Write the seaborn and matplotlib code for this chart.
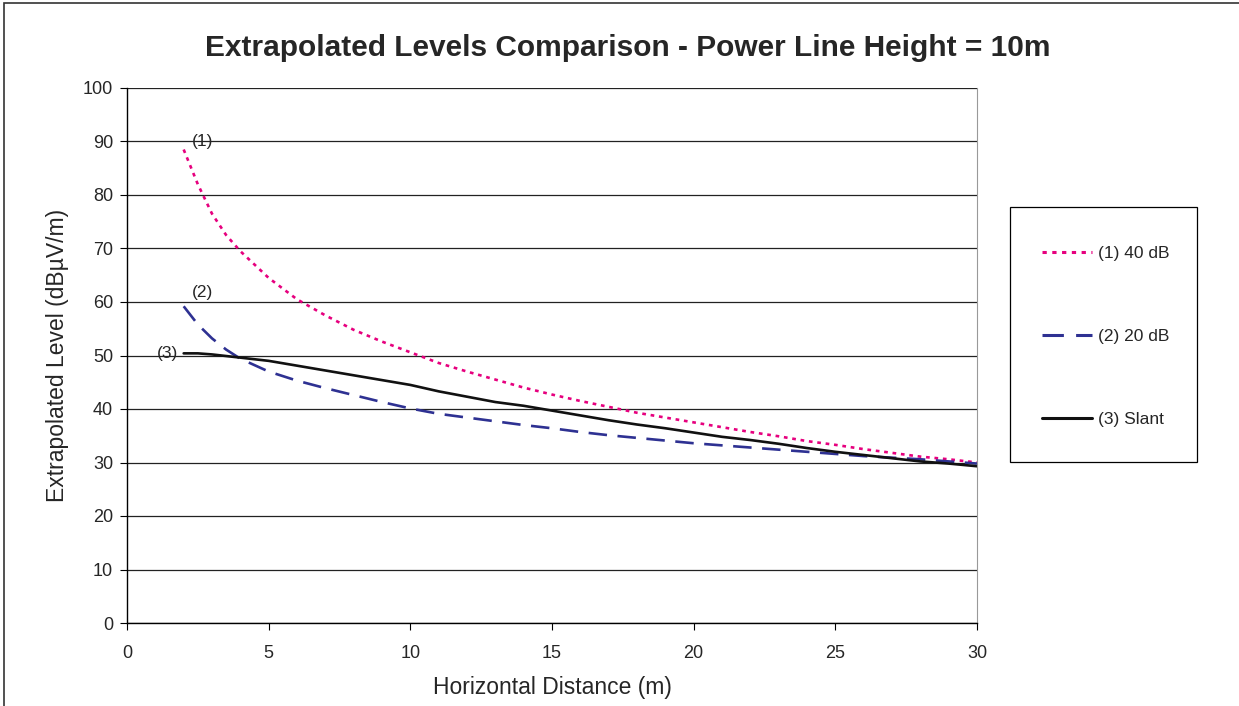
import numpy as np
import pandas as pd
import seaborn as sns
import matplotlib.pyplot as plt
from matplotlib.patches import Rectangle

# data
distance = [2, 2.5, 3, 3.5, 4, 5, 6, 7, 8, 9, 10, 11, 12, 13, 14, 15, 16, 17, 18, 19,
            20, 21, 22, 23, 24, 25, 26, 27, 28, 29, 30]
level_40db = [88.5, 82.0, 76.5, 72.5, 69.5, 64.5, 60.5, 57.5, 54.8, 52.6, 50.6, 48.6, 47.0,
              45.5, 44.0, 42.7, 41.5, 40.4, 39.3, 38.4, 37.5, 36.6, 35.7, 34.9, 34.0, 33.3,
              32.5, 31.8, 31.1, 30.6, 30.0]
level_20db = [59.2, 55.8, 53.2, 51.1, 49.4, 47.0, 45.3, 43.9, 42.6, 41.3, 40.1, 39.1, 38.4,
              37.7, 37.0, 36.4, 35.7, 35.1, 34.6, 34.1, 33.6, 33.2, 32.8, 32.4, 32.0, 31.6,
              31.2, 30.9, 30.6, 30.2, 29.8]
level_slant = [50.4, 50.4, 50.2, 49.9, 49.6, 49.0, 48.1, 47.2, 46.3, 45.4, 44.5, 43.3, 42.3,
               41.3, 40.6, 39.7, 38.8, 37.9, 37.1, 36.4, 35.6, 34.8, 34.2, 33.5, 32.7, 32.0,
               31.4, 30.8, 30.2, 29.8, 29.3]

series_names = ["(1) 40 dB", "(2) 20 dB", "(3) Slant"]
series_tags = ["(1)", "(2)", "(3)"]

df = pd.DataFrame({"distance": distance, series_names[0]: level_40db,
                   series_names[1]: level_20db, series_names[2]: level_slant})
long_df = df.melt(id_vars="distance", var_name="series", value_name="level")

sns.set_style("white")
plt.rcParams["font.family"] = ["Liberation Sans", "DejaVu Sans"]

W, H = 1239, 706
fig = plt.figure(figsize=(W / 100, H / 100), dpi=100)
ax = fig.add_axes([127 / W, 1 - 623 / H, 850 / W, 535 / H])

colors = {series_names[0]: "#e6007e", series_names[1]: "#2e3192", series_names[2]: "#111111"}
dashes = {series_names[0]: (1.4, 1.8), series_names[1]: (7, 4), series_names[2]: ""}

sns.lineplot(data=long_df, x="distance", y="level", hue="series", style="series",
             palette=colors, dashes=dashes, linewidth=1.9, ax=ax, legend=False)

ax.set_xlim(0, 30)
ax.set_ylim(0, 100)
ax.set_xticks(range(0, 31, 5))
ax.set_yticks(range(0, 101, 10))
ax.yaxis.grid(True, color="#222222", linewidth=0.9)
ax.set_axisbelow(True)
ax.tick_params(axis="both", direction="out", length=5, width=0.8, color="black",
               labelsize=13, pad=5, bottom=True, left=True)
ax.tick_params(axis="x", pad=11)
for side in ["left", "bottom"]:
    ax.spines[side].set_color("black")
    ax.spines[side].set_linewidth(1.0)
ax.spines["top"].set_visible(False)
ax.spines["right"].set_color("#999999")
ax.spines["right"].set_linewidth(0.8)

ax.set_xlabel("Horizontal Distance (m)", fontsize=16.5, labelpad=10)
ax.set_ylabel("Extrapolated Level (dBµV/m)", fontsize=16.5, labelpad=10)
fig.text(628 / W, 1 - 48 / H, "Extrapolated Levels Comparison - Power Line Height = 10m",
         fontsize=21.5, fontweight="bold", ha="center", va="center")

# series tags near start of each curve
ax.text(2.3, level_40db[0] + 1.5, series_tags[0], fontsize=12.5, ha="left", va="center")
ax.text(2.3, level_20db[0] + 2.5, series_tags[1], fontsize=12.5, ha="left", va="center")
ax.text(1.8, level_slant[0], series_tags[2], fontsize=12.5, ha="right", va="center")

# legend (frame drawn separately)
handles = []
for n in series_names:
    h = plt.Line2D([], [], color=colors[n], linewidth=2.2)
    if dashes[n]:
        h.set_dashes(dashes[n])
    handles.append(h)
fig.legend(handles, series_names, loc="upper left",
           bbox_to_anchor=(1042 / W, 1 - 246 / H), fontsize=12.5, frameon=False,
           labelspacing=3.9, borderpad=0, handlelength=2.9, handletextpad=0.35,
           borderaxespad=0)
fig.patches.append(Rectangle((1010 / W, 1 - 462 / H), 187 / W, 255 / H,
                             transform=fig.transFigure, fill=False,
                             edgecolor="black", linewidth=0.9))

# outer chart border (top and left visible only)
fig.patches.append(Rectangle((4 / W, -0.2), 1.5, 1.2 - 3 / H, transform=fig.transFigure,
                             fill=False, edgecolor="#333333", linewidth=1.2))

fig.savefig("out.png", dpi=100)
